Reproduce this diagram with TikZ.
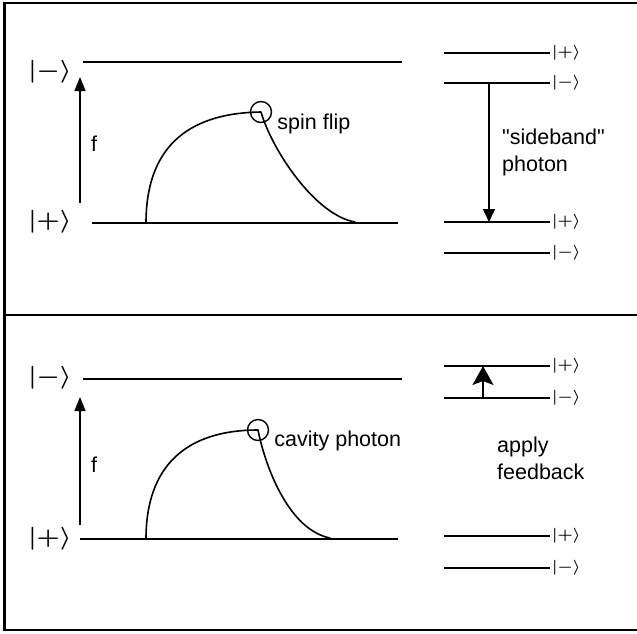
\documentclass[tikz,border=0pt]{standalone}
\usepackage{graphicx}
\usepackage{fontspec}
\setmainfont{Liberation Sans}
\usetikzlibrary{arrows.meta,positioning}
\tikzset{
  frameline/.style={
    draw=black,
    line width=2.6pt,
    line cap=rect
  },
  level/.style={
    draw=black,
    line width=1.8pt
  },
  pulse/.style={
    draw=black,
    line width=1.6pt,
    line cap=round,
    line join=round
  },
  marker/.style={
    circle,
    draw=black,
    line width=1.4pt,
    minimum size=21pt,
    inner sep=0pt
  },
  bigket/.style={
    font=\normalsize\boldmath,
    inner sep=0pt
  },
  smallket/.style={
    font=\normalsize\boldmath,
    inner sep=0pt,
    anchor=west
  },
  note/.style={
    font=\fontsize{21.5}{27}\selectfont,
    align=left,
    inner sep=0pt,
    anchor=west
  },
  freqarrow/.style={
    -{Triangle[length=14pt,width=11pt]},
    draw=black,
    line width=1.4pt
  },
  decayarrow/.style={
    -{Triangle[length=13pt,width=12pt]},
    draw=black,
    line width=1.4pt
  },
  kickarrow/.style={
    -{Stealth[length=19pt,width=21pt,inset=4pt]},
    draw=black,
    line width=1.4pt
  }
}
\begin{document}
\begin{tikzpicture}[x=1pt,y=-1pt]
  \useasboundingbox (0,0) rectangle (637,633);

  % Outer frame and separator between the two panels.
  \coordinate (frameNE) at (640,3);
  \coordinate (frameNW) at (4.5,3);
  \coordinate (frameSW) at (4.5,630);
  \coordinate (frameSE) at (640,630);
  \coordinate (splitW) at (4.5,315);
  \coordinate (splitE) at (640,315);
  \draw[frameline] (frameNE) -- (frameNW) -- (frameSW) -- (frameSE);
  \draw[frameline] (splitW) -- (splitE);

  % Upper panel: spin flip.
  \node[bigket] (topminus) at (50,72) {\scalebox{2.6}[2.3]{$|{-}\rangle$}};
  \node[bigket] (topplus) at (50,222) {\scalebox{2.6}[2.3]{$|{+}\rangle$}};
  \coordinate (topupW) at (83,62);
  \coordinate (topupE) at (402,62);
  \coordinate (toplowW) at (92,223);
  \coordinate (toplowE) at (398,223);
  \draw[level] (topupW) -- (topupE);
  \draw[level] (toplowW) -- (toplowE);

  \coordinate (topfS) at (80,203);
  \coordinate (topfN) at (80,77);
  \draw[freqarrow] (topfS) -- (topfN);
  \node[note] (topf) at (91,144) {f};

  \node[marker] (flipmark) at (261,112) {};
  \coordinate (toprise) at (146,223);
  \coordinate (topfall) at (355,222);
  \draw[pulse] (toprise) .. controls (146,150) and (185,113) .. (flipmark.center)
    .. controls (272,150) and (315,215) .. (topfall);
  \node[note,right=5pt of flipmark.east,yshift=-12pt] (fliptext) {spin flip};

  % Upper panel: split levels and sideband photon.
  \coordinate (sbAW) at (444,53);
  \coordinate (sbAE) at (550,53);
  \coordinate (sbBW) at (444,83);
  \coordinate (sbBE) at (550,83);
  \coordinate (sbCW) at (444,222);
  \coordinate (sbCE) at (550,222);
  \coordinate (sbDW) at (444,253);
  \coordinate (sbDE) at (550,253);
  \draw[level] (sbAW) -- (sbAE);
  \draw[level] (sbBW) -- (sbBE);
  \draw[level] (sbCW) -- (sbCE);
  \draw[level] (sbDW) -- (sbDE);
  \node[smallket] (sbAket) at (552,53) {\scalebox{1.7}[1.5]{$|{+}\rangle$}};
  \node[smallket] (sbBket) at (552,83) {\scalebox{1.7}[1.5]{$|{-}\rangle$}};
  \node[smallket] (sbCket) at (552,222) {\scalebox{1.7}[1.5]{$|{+}\rangle$}};
  \node[smallket] (sbDket) at (552,253) {\scalebox{1.7}[1.5]{$|{-}\rangle$}};

  \coordinate (sbtop) at (489,83);
  \coordinate (sbbottom) at (489,222);
  \draw[decayarrow] (sbtop) -- (sbbottom);
  \node[note] (sbtext) at (502,152) {\textquotedbl sideband\textquotedbl\\photon};

  % Lower panel: cavity photon.
  \node[bigket] (botminus) at (50,378) {\scalebox{2.6}[2.3]{$|{-}\rangle$}};
  \node[bigket] (botplus) at (50,539) {\scalebox{2.6}[2.3]{$|{+}\rangle$}};
  \coordinate (botupW) at (83,379);
  \coordinate (botupE) at (402,379);
  \coordinate (botlowW) at (80,539);
  \coordinate (botlowE) at (398,539);
  \draw[level] (botupW) -- (botupE);
  \draw[level] (botlowW) -- (botlowE);

  \coordinate (botfS) at (80,525);
  \coordinate (botfN) at (80,397);
  \draw[freqarrow] (botfS) -- (botfN);
  \node[note] (botf) at (91,465) {f};

  \node[marker] (cavmark) at (258,430) {};
  \coordinate (botrise) at (146,539);
  \coordinate (botfall) at (330,538);
  \draw[pulse] (botrise) .. controls (146,467) and (185,430) .. (cavmark.center)
    .. controls (266,470) and (290,530) .. (botfall);
  \node[note,right=5pt of cavmark.east,yshift=-11pt] (cavtext) {cavity photon};

  % Lower panel: split levels and feedback kick.
  \coordinate (fbAW) at (444,366);
  \coordinate (fbAE) at (550,366);
  \coordinate (fbBW) at (444,398);
  \coordinate (fbBE) at (550,398);
  \coordinate (fbCW) at (444,536);
  \coordinate (fbCE) at (550,536);
  \coordinate (fbDW) at (444,568);
  \coordinate (fbDE) at (550,568);
  \draw[level] (fbAW) -- (fbAE);
  \draw[level] (fbBW) -- (fbBE);
  \draw[level] (fbCW) -- (fbCE);
  \draw[level] (fbDW) -- (fbDE);
  \node[smallket] (fbAket) at (552,366) {\scalebox{1.7}[1.5]{$|{+}\rangle$}};
  \node[smallket] (fbBket) at (552,398) {\scalebox{1.7}[1.5]{$|{-}\rangle$}};
  \node[smallket] (fbCket) at (552,536) {\scalebox{1.7}[1.5]{$|{+}\rangle$}};
  \node[smallket] (fbDket) at (552,568) {\scalebox{1.7}[1.5]{$|{-}\rangle$}};

  \coordinate (fbbottom) at (483,398);
  \coordinate (fbtop) at (483,366);
  \draw[kickarrow] (fbbottom) -- (fbtop);
  \node[note] (fbtext) at (497,458) {apply\\feedback};

\end{tikzpicture}
\end{document}
